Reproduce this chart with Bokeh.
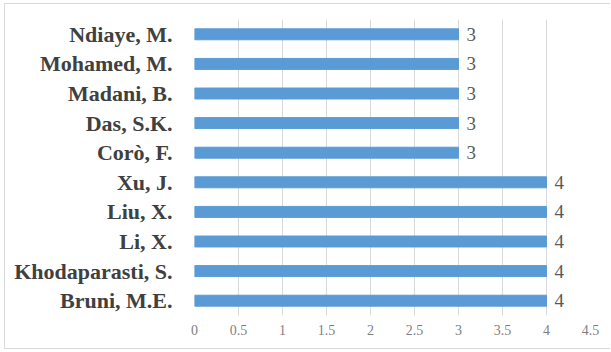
from bokeh.plotting import figure
from bokeh.models import ColumnDataSource, LabelSet, FixedTicker
from bokeh.core.properties import value
from bokeh.embed import file_html
from bokeh.resources import INLINE

authors = ["Bruni, M.E.", "Khodaparasti, S.", "Li, X.", "Liu, X.", "Xu, J.",
           "Corò, F.", "Das, S.K.", "Madani, B.", "Mohamed, M.", "Ndiaye, M."]
counts = [4, 4, 4, 4, 4, 3, 3, 3, 3, 3]
x_ticks = [0, 0.5, 1, 1.5, 2, 2.5, 3, 3.5, 4, 4.5]
x_tick_labels = ["0", "0.5", "1", "1.5", "2", "2.5", "3", "3.5", "4", "4.5"]

src = ColumnDataSource(dict(author=authors, count=counts,
                            label=[str(c) for c in counts]))

p = figure(width=606, height=346, y_range=authors, x_range=(0, 4.5),
           output_backend="svg", toolbar_location=None,
           min_border_left=189, min_border_right=21,
           min_border_top=15, min_border_bottom=35)
p.styles = {"margin-left": "4px", "margin-top": "3px",
            "border-left": "1px solid #D9D9D9",
            "border-top": "1px solid #D9D9D9",
            "border-bottom": "1px solid #D9D9D9"}
p.outline_line_color = None
p.background_fill_color = "white"
p.border_fill_color = "white"

p.hbar(y="author", right="count", left=0, height=0.37, source=src,
       color="#5B9BD5")

labels = LabelSet(x="count", y="author", text="label", source=src,
                  x_offset=8, text_baseline="middle", text_align="left",
                  text_font=value("Liberation Serif"), text_font_size="19px",
                  text_color="#595959")
p.add_layout(labels)

p.xaxis.ticker = FixedTicker(ticks=x_ticks)
p.xaxis.major_label_overrides = {t: l for t, l in zip(x_ticks, x_tick_labels)}
p.xaxis.axis_line_color = None
p.xaxis.major_tick_line_color = None
p.xaxis.minor_tick_line_color = None
p.xaxis.major_label_text_font = "Liberation Serif"
p.xaxis.major_label_text_font_size = "14px"
p.xaxis.major_label_text_color = "#7F7F7F"
p.xaxis.major_label_standoff = 3

p.yaxis.axis_line_color = None
p.yaxis.major_tick_line_color = None
p.yaxis.minor_tick_line_color = None
p.yaxis.major_label_text_font = "Liberation Serif"
p.yaxis.major_label_text_font_style = "bold"
p.yaxis.major_label_text_font_size = "22px"
p.yaxis.major_label_text_color = "#404040"
p.yaxis.major_label_standoff = 16

p.xgrid.grid_line_color = "#D9D9D9"
p.ygrid.grid_line_color = None

open("out.html", "w").write(file_html(p, INLINE))
